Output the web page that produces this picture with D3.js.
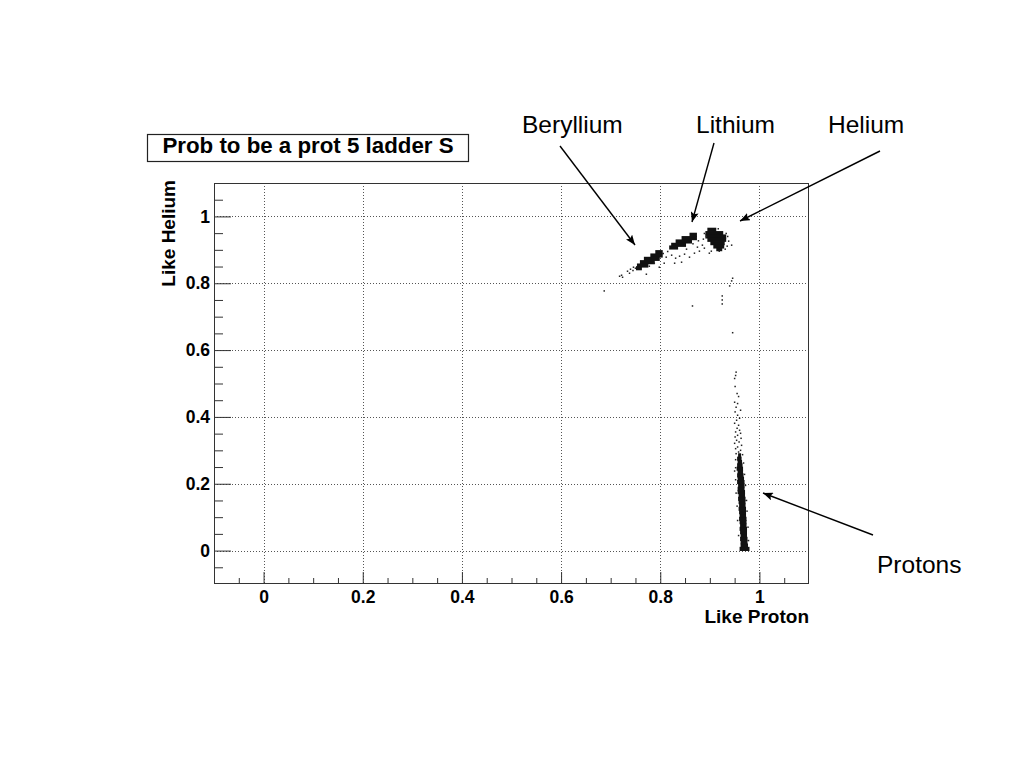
<!DOCTYPE html>
<html>
<head>
<meta charset="utf-8">
<script src="https://cdn.jsdelivr.net/npm/d3@7"></script>
<style>
  html, body { margin: 0; padding: 0; background: #fff; }
  svg { display: block; }
</style>
</head>
<body>
<svg id="chart" width="1024" height="768"></svg>
<script>
// ---------------- DATA ----------------
const chartTitle = "Prob to be a prot 5 ladder S";
const xTitle = "Like Proton";
const yTitle = "Like Helium";

const majorTicks = [0, 0.2, 0.4, 0.6, 0.8, 1];
const majorTickLabels = ["0", "0.2", "0.4", "0.6", "0.8", "1"];
const minorTicks = [-0.05, 0.05, 0.1, 0.15, 0.25, 0.3, 0.35, 0.45, 0.5, 0.55,
                    0.65, 0.7, 0.75, 0.85, 0.9, 0.95, 1.05];

// dense regions: [y bottom of row, x from, x to] (rows 0.01 tall)
const protonRows = [
  [0.000, 0.960, 0.980], [0.010, 0.962, 0.977], [0.020, 0.962, 0.976],
  [0.030, 0.961, 0.976], [0.040, 0.962, 0.975], [0.050, 0.961, 0.975],
  [0.060, 0.960, 0.975], [0.070, 0.961, 0.974], [0.080, 0.960, 0.974],
  [0.090, 0.959, 0.974], [0.100, 0.960, 0.973], [0.110, 0.959, 0.973],
  [0.120, 0.958, 0.973], [0.130, 0.959, 0.972], [0.140, 0.958, 0.972],
  [0.150, 0.957, 0.972], [0.160, 0.958, 0.971], [0.170, 0.956, 0.971],
  [0.180, 0.956, 0.970], [0.190, 0.957, 0.970], [0.200, 0.955, 0.970],
  [0.210, 0.956, 0.969], [0.220, 0.955, 0.968], [0.230, 0.956, 0.967],
  [0.240, 0.954, 0.967], [0.250, 0.955, 0.966], [0.260, 0.956, 0.965],
  [0.270, 0.955, 0.964], [0.280, 0.957, 0.963]
];
const heliumRows = [
  [0.955, 0.895, 0.913], [0.945, 0.891, 0.927], [0.935, 0.891, 0.933],
  [0.925, 0.895, 0.933], [0.915, 0.901, 0.930], [0.905, 0.907, 0.929],
  [0.897, 0.913, 0.925]
];
const lithiumRows = [
  [0.940, 0.859, 0.874], [0.930, 0.843, 0.874], [0.920, 0.831, 0.864],
  [0.910, 0.822, 0.852], [0.902, 0.818, 0.836]
];
const berylliumRows = [
  [0.888, 0.790, 0.805], [0.878, 0.780, 0.805], [0.868, 0.767, 0.799],
  [0.858, 0.759, 0.789], [0.848, 0.753, 0.776], [0.840, 0.751, 0.763]
];

// isolated events: [like proton, like helium]
const sparsePoints = [
  // trail below beryllium
  [0.718, 0.821], [0.722, 0.824], [0.724, 0.818], [0.734, 0.836], [0.740, 0.842],
  [0.746, 0.848], [0.738, 0.830], [0.772, 0.827], [0.687, 0.777],
  // between the clusters
  [0.812, 0.878], [0.823, 0.884], [0.831, 0.875], [0.839, 0.881], [0.849, 0.887],
  [0.859, 0.878], [0.869, 0.890], [0.879, 0.896], [0.885, 0.914], [0.889, 0.905],
  [0.899, 0.890], [0.875, 0.908], [0.808, 0.860], [0.798, 0.848], [0.788, 0.860],
  [0.778, 0.851], [0.829, 0.860], [0.843, 0.863], [0.815, 0.895], [0.806, 0.889],
  [0.853, 0.902], [0.866, 0.918], [0.877, 0.927], [0.745, 0.838], [0.750, 0.845],
  // helium halo
  [0.933, 0.949], [0.938, 0.926], [0.935, 0.911], [0.889, 0.949], [0.887, 0.932],
  [0.931, 0.902], [0.919, 0.896], [0.903, 0.896], [0.944, 0.914], [0.936, 0.940],
  [0.917, 0.963], [0.893, 0.940],
  // isolated
  [0.946, 0.815], [0.944, 0.807], [0.940, 0.792], [0.925, 0.762], [0.925, 0.750],
  [0.925, 0.738], [0.865, 0.732], [0.946, 0.652],
  // proton tail
  [0.953, 0.534], [0.952, 0.524], [0.950, 0.515], [0.951, 0.491], [0.955, 0.470],
  [0.958, 0.461], [0.950, 0.444], [0.956, 0.440], [0.953, 0.429], [0.962, 0.420],
  [0.951, 0.415], [0.956, 0.405], [0.960, 0.396], [0.954, 0.390], [0.950, 0.381],
  [0.958, 0.375], [0.955, 0.366], [0.960, 0.360], [0.952, 0.355], [0.962, 0.351],
  [0.956, 0.345], [0.951, 0.340], [0.963, 0.336], [0.954, 0.330], [0.959, 0.325],
  [0.950, 0.321], [0.964, 0.315], [0.956, 0.310], [0.952, 0.305], [0.962, 0.300],
  [0.958, 0.295], [0.953, 0.290], [0.966, 0.287],
  // proton band edges
  [0.952, 0.272], [0.968, 0.262], [0.952, 0.248], [0.950, 0.238], [0.970, 0.228],
  [0.952, 0.212], [0.972, 0.195], [0.953, 0.172], [0.974, 0.150], [0.955, 0.133],
  [0.975, 0.118], [0.956, 0.090], [0.977, 0.070], [0.958, 0.045], [0.978, 0.030]
];

const annotations = [
  { label: "Beryllium", tx: 522, ty: 133, from: [560, 146], to: [635, 245] },
  { label: "Lithium",   tx: 696, ty: 133, from: [714, 143], to: [692, 222] },
  { label: "Helium",    tx: 828, ty: 133, from: [880, 151], to: [740, 221] },
  { label: "Protons",   tx: 877, ty: 573, from: [873, 535], to: [763, 493] }
];

// ---------------- DRAWING ----------------
const svg = d3.select("#chart");
const L = 214, R = 809, T = 183, B = 584;
const x = d3.scaleLinear().domain([-0.1, 1.1]).range([L, R]);
const y = d3.scaleLinear().domain([-0.1, 1.1]).range([B, T]);
const FONT = "'Liberation Sans', Arial, Helvetica, sans-serif";

svg.append("rect").attr("width", 1024).attr("height", 768).attr("fill", "#fff");

// grid
const grid = svg.append("g").attr("stroke", "#555").attr("stroke-width", 1)
  .attr("stroke-dasharray", "1,2").attr("fill", "none");
grid.selectAll("line.v").data(majorTicks).join("line").attr("class", "v")
  .attr("x1", d => Math.round(x(d)) + 0.5).attr("x2", d => Math.round(x(d)) + 0.5)
  .attr("y1", T).attr("y2", B);
grid.selectAll("line.h").data(majorTicks).join("line").attr("class", "h")
  .attr("y1", d => Math.round(y(d)) + 0.5).attr("y2", d => Math.round(y(d)) + 0.5)
  .attr("x1", L).attr("x2", R);

// data
const marks = svg.append("g").attr("fill", "#111");
const rowH = 0.01;
[protonRows, heliumRows, lithiumRows, berylliumRows].forEach(rows => {
  marks.append("g").selectAll("rect").data(rows).join("rect")
    .attr("x", d => x(d[1]))
    .attr("width", d => x(d[2]) - x(d[1]))
    .attr("y", d => y(d[0] + rowH) - 0.4)
    .attr("height", d => y(d[0]) - y(d[0] + rowH) + 0.8);
});
marks.append("g").selectAll("rect").data(sparsePoints).join("rect")
  .attr("x", d => x(d[0]) - 0.75).attr("y", d => y(d[1]) - 0.75)
  .attr("width", 1.5).attr("height", 1.5).attr("fill", "#222");

// axes
const xMajor = d3.axisBottom(x).tickValues(majorTicks)
  .tickFormat((d, i) => majorTickLabels[i]).tickSizeInner(-12).tickSizeOuter(0).tickPadding(7);
const xMinor = d3.axisBottom(x).tickValues(minorTicks).tickFormat("")
  .tickSizeInner(-6).tickSizeOuter(0);
const yMajor = d3.axisLeft(y).tickValues(majorTicks)
  .tickFormat((d, i) => majorTickLabels[i]).tickSizeInner(-17).tickSizeOuter(0).tickPadding(4);
const yMinor = d3.axisLeft(y).tickValues(minorTicks).tickFormat("")
  .tickSizeInner(-9).tickSizeOuter(0);

function styleAxis(g) {
  g.select(".domain").remove();
  g.selectAll(".tick line").attr("stroke", "#333").attr("stroke-width", 1);
  g.selectAll(".tick text").attr("fill", "#000").attr("font-family", FONT)
    .attr("font-weight", "bold").attr("font-size", 17.5);
}
svg.append("g").attr("transform", `translate(0,${B})`).call(xMinor).call(styleAxis);
svg.append("g").attr("transform", `translate(0,${B})`).call(xMajor).call(styleAxis);
svg.append("g").attr("transform", `translate(${L},0)`).call(yMinor).call(styleAxis);
svg.append("g").attr("transform", `translate(${L},0)`).call(yMajor).call(styleAxis);

// frame
svg.append("rect").attr("x", L + 0.5).attr("y", T + 0.5)
  .attr("width", R - L - 1).attr("height", B - T - 1)
  .attr("fill", "none").attr("stroke", "#333").attr("stroke-width", 1);

// axis titles
svg.append("text").attr("x", R).attr("y", 623).attr("text-anchor", "end")
  .attr("font-family", FONT).attr("font-weight", "bold").attr("font-size", 19)
  .text(xTitle);
svg.append("text").attr("transform", `translate(175,${T - 3}) rotate(-90)`)
  .attr("text-anchor", "end").attr("font-family", FONT).attr("font-weight", "bold")
  .attr("font-size", 19).text(yTitle);

// title box
svg.append("rect").attr("x", 147.5).attr("y", 134.5).attr("width", 321).attr("height", 27)
  .attr("fill", "#fff").attr("stroke", "#222").attr("stroke-width", 1.2);
svg.append("text").attr("x", 308).attr("y", 152.5).attr("text-anchor", "middle")
  .attr("font-family", FONT).attr("font-weight", "bold").attr("font-size", 22.3)
  .text(chartTitle);

// annotations
const defs = svg.append("defs");
defs.append("marker").attr("id", "arrow").attr("viewBox", "0 0 10 8")
  .attr("refX", 10).attr("refY", 4).attr("markerWidth", 10).attr("markerHeight", 8)
  .attr("markerUnits", "userSpaceOnUse").attr("orient", "auto")
  .append("path").attr("d", "M0,0 L10,4 L0,8 L2,4 Z").attr("fill", "#000");

const ann = svg.append("g");
ann.selectAll("line").data(annotations).join("line")
  .attr("x1", d => d.from[0]).attr("y1", d => d.from[1])
  .attr("x2", d => d.to[0]).attr("y2", d => d.to[1])
  .attr("stroke", "#000").attr("stroke-width", 1.4).attr("marker-end", "url(#arrow)");
ann.selectAll("text").data(annotations).join("text")
  .attr("x", d => d.tx).attr("y", d => d.ty)
  .attr("font-family", FONT).attr("font-size", 24.5).attr("fill", "#000")
  .text(d => d.label);
</script>
</body>
</html>
